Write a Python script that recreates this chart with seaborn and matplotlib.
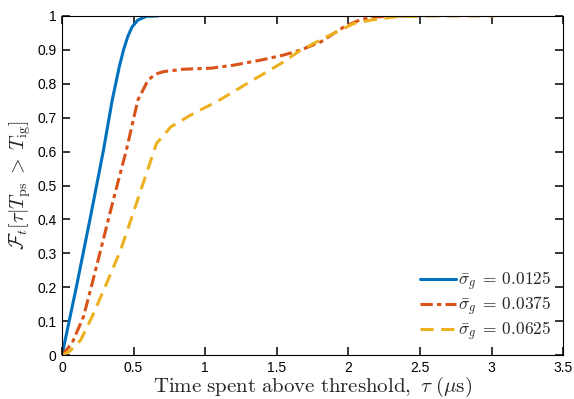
import numpy as np
import pandas as pd
import matplotlib
matplotlib.use("Agg")
import matplotlib.pyplot as plt
import seaborn as sns

# ── Data ──────────────────────────────────────────────────────────
tau_1 = [0, 0.10, 0.20, 0.29, 0.35, 0.40, 0.43, 0.46, 0.49, 0.53, 0.59, 0.67]
F_1   = [0, 0.20, 0.41, 0.605, 0.75, 0.85, 0.90, 0.94, 0.968, 0.988, 0.999, 1.0]

tau_2 = [0, 0.07, 0.15, 0.21, 0.27, 0.36, 0.45, 0.53, 0.60, 0.65, 0.71, 0.85,
         1.04, 1.20, 1.39, 1.55, 1.67, 1.81, 1.97, 2.09, 2.20, 2.30, 2.45]
F_2   = [0, 0.035, 0.113, 0.21, 0.31, 0.46, 0.605, 0.752, 0.81, 0.828, 0.836, 0.843,
         0.846, 0.855, 0.87, 0.885, 0.90, 0.924, 0.968, 0.99, 0.997, 1.0, 1.0]

tau_3 = [0, 0.05, 0.13, 0.21, 0.31, 0.41, 0.53, 0.66, 0.76, 0.92, 1.08, 1.29,
         1.53, 1.67, 1.85, 2.04, 2.16, 2.34, 2.60, 3.02]
F_3   = [0, 0.01, 0.044, 0.113, 0.21, 0.31, 0.46, 0.624, 0.673, 0.713, 0.747, 0.80,
         0.86, 0.90, 0.939, 0.978, 0.988, 0.998, 1.0, 1.0]

labels = [r"$\bar{\sigma}_g\:=\:0.0125$", r"$\bar{\sigma}_g\:=\:0.0375$", r"$\bar{\sigma}_g\:=\:0.0625$"]
colors = ["#0072BD", "#D95319", "#EDB120"]
styles = ["-", (0, (4, 1.4, 1.4, 1.4)), (0, (4.3, 2.5))]

x_ticks = [0, 0.5, 1, 1.5, 2, 2.5, 3, 3.5]
y_ticks = [0, 0.1, 0.2, 0.3, 0.4, 0.5, 0.6, 0.7, 0.8, 0.9, 1]

# ── Style ─────────────────────────────────────────────────────────
sns.set_style("ticks")
plt.rcParams["font.family"] = ["Liberation Sans", "DejaVu Sans"]
plt.rcParams["mathtext.fontset"] = "cm"

fig, ax = plt.subplots(figsize=(5.74, 3.99), dpi=100)
fig.subplots_adjust(left=0.108, right=0.981, top=0.96, bottom=0.11)

for tau, F, lab, c, ls in zip([tau_1, tau_2, tau_3], [F_1, F_2, F_3], labels, colors, styles):
    df = pd.DataFrame({"tau": tau, "F": F})
    sns.lineplot(data=df, x="tau", y="F", ax=ax, color=c, lw=2.2,
                 linestyle=ls, label=lab, sort=False)

ax.set_xlim(0, 3.5)
ax.set_ylim(0, 1)
ax.set_xticks(x_ticks)
ax.set_yticks(y_ticks)
ax.set_xticklabels([f"{v:g}" for v in x_ticks])
ax.set_yticklabels([f"{v:g}" for v in y_ticks])
for s in ax.spines.values():
    s.set_linewidth(0.8)
    s.set_color("black")

ax.set_xlabel(r"$\mathrm{Time\ spent\ above\ threshold,}\ \tau\ (\mu\mathrm{s})$",
              fontsize=15, labelpad=0)
ax.set_ylabel(r"$\mathcal{F}_t[\tau|T_{\rm ps}\;>\;T_{\rm ig}]$", fontsize=14.5, labelpad=3)

ax.legend(loc="lower right", frameon=False, fontsize=12.5, handlelength=2.1,
          handletextpad=0.1, labelspacing=0.1, borderaxespad=0.3)

# ticks last so nothing resets them
ax.tick_params(direction="in", length=5.5, width=1.1, color="black",
               top=True, right=True, labelsize=10, labelcolor="black", pad=4)

plt.savefig("out.png", dpi=100)
plt.close()
